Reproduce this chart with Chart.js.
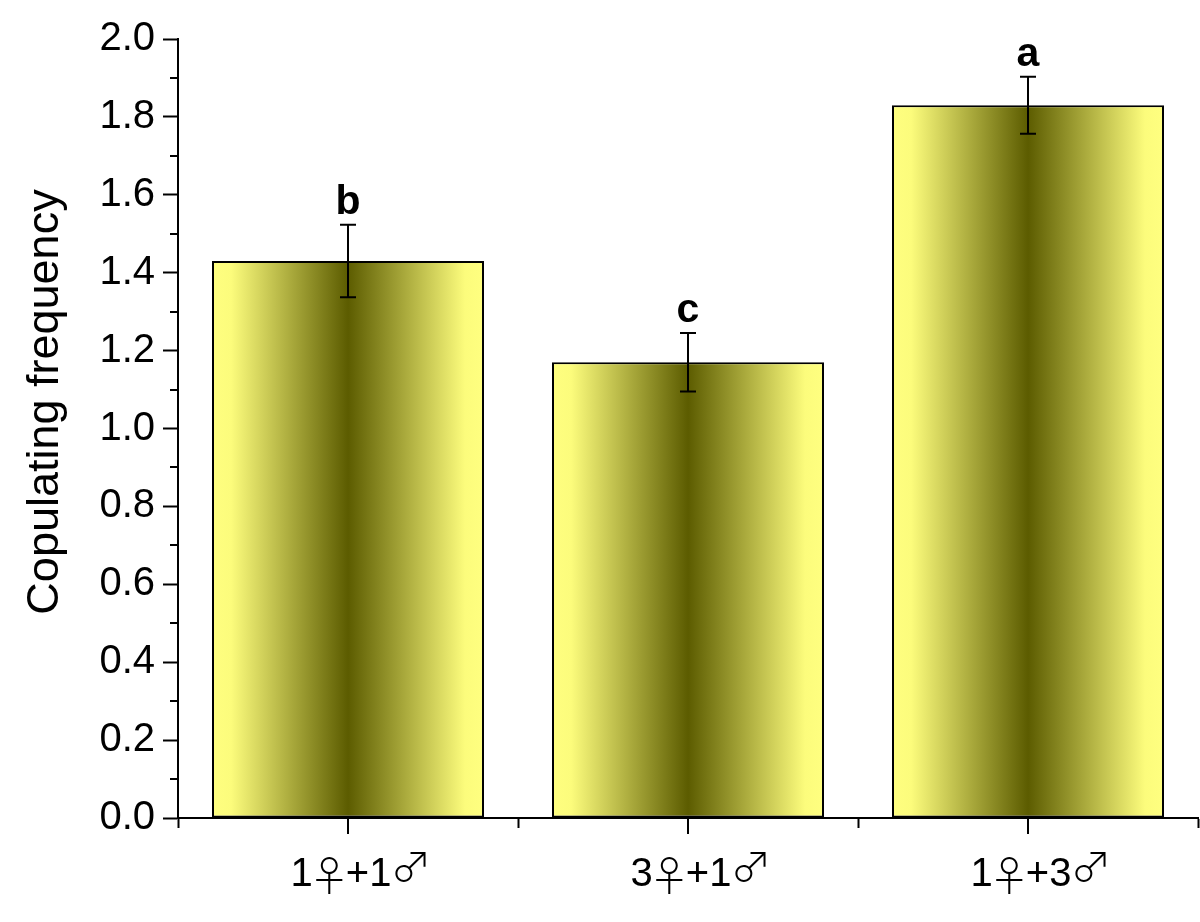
<!DOCTYPE html>
<html>
<head>
  <meta charset="UTF-8">
  <title>Copulating frequency</title>
  <script src="https://cdn.jsdelivr.net/npm/chart.js@4.4.1/dist/chart.umd.min.js"></script>
  <style>
    html, body { margin: 0; padding: 0; background: #fff; }
    canvas { display: block; }
  </style>
</head>
<body>
<canvas id="chart" width="1200" height="922"></canvas>
<script>
// values
const groups = ['1♀+1♂', '3♀+1♂', '1♀+3♂'];
const means = [1.43, 1.17, 1.83];
const errors = [0.093, 0.075, 0.073];
const letters = ['b', 'c', 'a'];
const yTitle = 'Copulating frequency';

const FONT = '"Liberation Sans", Arial, sans-serif';
const SYM_FONT = '"Noto Sans CJK JP", "DejaVu Sans", sans-serif';
const BAR_PCT = 0.8;

function barGradient(c) {
  const chart = c.chart;
  if (!chart.chartArea) return '#ffff80';
  const x = chart.scales.x;
  const cx = x.getPixelForValue(c.dataIndex);
  const half = (x.width / groups.length) * BAR_PCT / 2;
  const g = chart.ctx.createLinearGradient(cx - half, 0, cx + half, 0);
  g.addColorStop(0, '#ffff80');
  g.addColorStop(0.07, '#fcfc7c');
  g.addColorStop(0.5, '#5c5c00');
  g.addColorStop(0.93, '#fcfc7c');
  g.addColorStop(1, '#ffff80');
  return g;
}

// group label: digits in Arial-like font, gender signs larger and thin
function drawGroupLabel(ctx, text, cx, baseline) {
  ctx.font = '300 40px ' + SYM_FONT;
  const probe = ctx.measureText('♀');
  const symSize = 40 * 38 / (probe.actualBoundingBoxAscent + probe.actualBoundingBoxDescent);
  const symFont = '300 ' + symSize + 'px ' + SYM_FONT;
  const parts = [...text].map(ch => {
    const sym = ch === '♀' || ch === '♂';
    ctx.font = sym ? symFont : '40px ' + FONT;
    const m = ctx.measureText(ch);
    const w = sym ? m.actualBoundingBoxLeft + m.actualBoundingBoxRight + 6 : m.width;
    return { ch, sym, m, w };
  });
  const total = parts.reduce((s, p) => s + p.w, 0);
  let px = cx + 12 - total / 2;
  parts.forEach(p => {
    if (p.sym) {
      ctx.font = symFont;
      // female sign sits from cap height down below the baseline, male a bit higher
      const top = p.ch === '♀' ? baseline - 29 : baseline - 34;
      ctx.fillText(p.ch, px + 3 + p.m.actualBoundingBoxLeft, top + p.m.actualBoundingBoxAscent);
    } else {
      ctx.font = '40px ' + FONT;
      ctx.fillText(p.ch, px, baseline);
    }
    px += p.w;
  });
}

// minor y ticks, centre x ticks, error bars, letters, labels
const extras = {
  id: 'extras',
  afterDatasetsDraw(chart) {
    const ctx = chart.ctx;
    const x = chart.scales.x, y = chart.scales.y;
    ctx.save();
    ctx.strokeStyle = '#000';
    ctx.fillStyle = '#000';
    ctx.lineWidth = 2;

    for (let v = 0.1; v < 2; v += 0.2) {
      const py = Math.round(y.getPixelForValue(v));
      ctx.beginPath();
      ctx.moveTo(x.left, py);
      ctx.lineTo(x.left - 8, py);
      ctx.stroke();
    }

    groups.forEach((g, i) => {
      const px = Math.round(x.getPixelForValue(i));
      ctx.beginPath();
      ctx.moveTo(px, y.bottom);
      ctx.lineTo(px, y.bottom + 16);
      ctx.stroke();

      ctx.textAlign = 'left';
      ctx.textBaseline = 'alphabetic';
      drawGroupLabel(ctx, g, px, y.bottom + 68);
    });

    means.forEach((m, i) => {
      const px = Math.round(x.getPixelForValue(i));
      const top = y.getPixelForValue(m + errors[i]);
      const bot = y.getPixelForValue(m - errors[i]);
      ctx.beginPath();
      ctx.moveTo(px, top); ctx.lineTo(px, bot);
      ctx.moveTo(px - 8, top); ctx.lineTo(px + 8, top);
      ctx.moveTo(px - 8, bot); ctx.lineTo(px + 8, bot);
      ctx.stroke();

      ctx.font = 'bold 41px ' + FONT;
      ctx.textAlign = 'center';
      ctx.textBaseline = 'alphabetic';
      ctx.fillText(letters[i], px, top - 11);
    });

    // y axis title
    ctx.translate(46, 402);
    ctx.rotate(-Math.PI / 2);
    ctx.font = '45px ' + FONT;
    ctx.textAlign = 'center';
    ctx.textBaseline = 'middle';
    ctx.fillText(yTitle, 0, 0);
    ctx.restore();
  }
};

new Chart(document.getElementById('chart'), {
  type: 'bar',
  data: {
    labels: groups,
    datasets: [{
      data: means,
      backgroundColor: barGradient,
      borderColor: '#000',
      borderWidth: 2,
      borderSkipped: false,
      categoryPercentage: 1,
      barPercentage: BAR_PCT
    }]
  },
  options: {
    responsive: false,
    animation: false,
    layout: { padding: { top: 39, right: 2, left: 0, bottom: 0 } },
    plugins: { legend: { display: false }, tooltip: { enabled: false } },
    scales: {
      x: {
        offset: true,
        border: { color: '#000', width: 2 },
        grid: { display: true, drawOnChartArea: false, offset: true, tickLength: 10, tickColor: '#000', tickWidth: 2 },
        ticks: { display: false },
        afterFit(s) { s.height = 104; }
      },
      y: {
        min: 0,
        max: 2,
        border: { color: '#000', width: 2 },
        grid: { drawOnChartArea: false, tickLength: 15, tickColor: '#000', tickWidth: 2 },
        ticks: {
          stepSize: 0.2,
          color: '#000',
          font: { family: FONT, size: 40 },
          padding: 8,
          callback: v => v.toFixed(1)
        },
        afterFit(s) { s.width = 178; }
      }
    }
  },
  plugins: [extras]
});
</script>
</body>
</html>
